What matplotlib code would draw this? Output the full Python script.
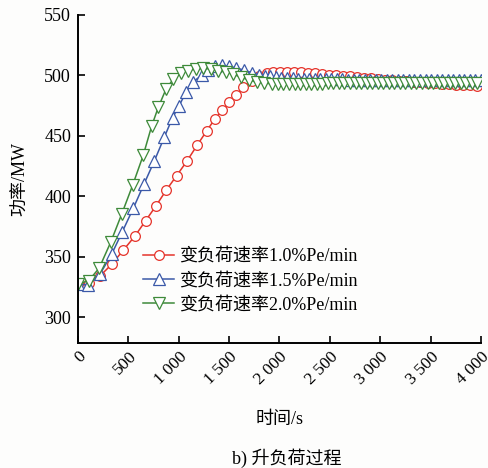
import matplotlib
matplotlib.use("Agg")
import matplotlib.pyplot as plt

plt.rcParams['font.family'] = ['Liberation Serif', 'Noto Sans CJK SC']

# time (s) and power (MW) at each marker
t_red = [0, 110, 218, 334, 450, 565, 671, 774, 876, 979, 1081, 1181, 1277, 1359,
         1432, 1498, 1567, 1640, 1723, 1799, 1872, 1935, 2004, 2070, 2140, 2210,
         2280, 2350, 2420, 2490, 2560, 2630, 2700, 2770, 2840, 2910, 2980, 3050,
         3120, 3190, 3260, 3330, 3400, 3470, 3540, 3610, 3680, 3750, 3820, 3890,
         3960]
p_red = [327.5, 328.5, 334.0, 343.6, 355.4, 367.0, 379.7, 392.0, 405.0, 417.0,
         429.0, 442.0, 454.0, 464.0, 471.0, 477.7, 484.0, 490.0, 495.4, 499.5,
         501.7, 502.8, 503.2, 503.2, 503.0, 502.6, 502.1, 501.6, 501.0, 500.5,
         500.1, 499.7, 499.2, 498.7, 498.2, 497.7, 497.1, 496.6, 496.1, 495.6,
         495.2, 494.8, 494.4, 494.0, 493.6, 493.2, 492.8, 492.4, 492.1, 491.8,
         491.5]

t_blue = [0, 100, 218, 334, 440, 549, 655, 757, 856, 939, 1005, 1071, 1144, 1227,
          1293, 1359, 1432, 1501, 1567, 1644, 1723, 1799, 1855, 1910, 1965, 2020,
          2075, 2130, 2185, 2240, 2295, 2350, 2405, 2460, 2515, 2570, 2625, 2680,
          2735, 2790, 2845, 2900, 2955, 3010, 3065, 3120, 3175, 3230, 3285, 3340,
          3395, 3450, 3505, 3560, 3615, 3670, 3725, 3780, 3835, 3890, 3945, 4000]
p_blue = [327.5, 326.5, 335.5, 352.0, 370.6, 390.0, 410.0, 429.0, 448.7, 465.0,
          475.0, 486.0, 494.8, 500.0, 504.5, 507.5, 508.3, 507.5, 506.2, 504.5,
          502.3, 500.5, 499.7, 499.1, 498.6, 498.2, 497.9, 497.6, 497.4, 497.2,
          497.1, 497.0, 496.9, 496.8, 496.8, 496.7, 496.7, 496.6, 496.6, 496.6,
          496.5, 496.5, 496.5, 496.5, 496.5, 496.5, 496.5, 496.5, 496.5, 496.5,
          496.5, 496.5, 496.5, 496.5, 496.5, 496.5, 496.5, 496.5, 496.5, 496.5,
          496.5, 496.5]

t_green = [0, 105, 210, 324, 433, 542, 648, 731, 797, 873, 946, 1019, 1094, 1171,
           1243, 1319, 1392, 1466, 1543, 1617, 1697, 1773, 1849, 1928, 1985, 2040,
           2095, 2150, 2205, 2260, 2315, 2370, 2425, 2480, 2535, 2590, 2645, 2700,
           2755, 2810, 2865, 2920, 2975, 3030, 3085, 3140, 3195, 3250, 3305, 3360,
           3415, 3470, 3525, 3580, 3635, 3690, 3745, 3800, 3855, 3910, 3965]
p_green = [327.5, 330.0, 340.5, 361.8, 385.0, 409.0, 434.0, 458.0, 473.6, 488.5,
           497.0, 501.7, 504.0, 505.3, 505.8, 505.3, 504.0, 502.8, 501.0, 498.4,
           496.2, 494.5, 493.7, 493.0, 492.8, 492.7, 492.7, 492.8, 492.9, 493.0,
           493.1, 493.2, 493.2, 493.3, 493.3, 493.4, 493.4, 493.4, 493.4, 493.4,
           493.4, 493.4, 493.4, 493.4, 493.4, 493.4, 493.4, 493.4, 493.4, 493.4,
           493.4, 493.4, 493.4, 493.4, 493.4, 493.4, 493.4, 493.4, 493.4, 493.4,
           493.4]

labels = ['变负荷速率1.0%Pe/min', '变负荷速率1.5%Pe/min', '变负荷速率2.0%Pe/min']
xticks = [0, 500, 1000, 1500, 2000, 2500, 3000, 3500, 4000]
xticklabels = ['0', '500', '1 000', '1 500', '2 000', '2 500', '3 000', '3 500', '4 000']
yticks = [300, 350, 400, 450, 500, 550]

fig = plt.figure(figsize=(4.89, 4.68), dpi=100)
fig.patch.set_facecolor('#fdfdfc')
ax = fig.add_axes([0.1595, 0.267, 0.824, 0.701])
ax.set_facecolor('#fdfdfc')

ax.plot(t_red, p_red, color='#e5332a', lw=1.1, marker='o', ms=7,
        mfc='white', mec='#e5332a', mew=0.9, label=labels[0])
ax.plot(t_blue, p_blue, color='#3b59a8', lw=1.1, marker='^', ms=8,
        mfc='white', mec='#3b59a8', mew=0.9, label=labels[1])
ax.plot(t_green, p_green, color='#3e8a3a', lw=1.1, marker='v', ms=8,
        mfc='white', mec='#3e8a3a', mew=0.9, label=labels[2])

ax.set_xlim(0, 4000)
ax.set_ylim(278.5, 550)
ax.set_xticks(xticks)
ax.set_xticklabels(xticklabels, rotation=45, ha='right', va='top',
                   rotation_mode='anchor')
ax.set_yticks(yticks)

ax.spines['top'].set_visible(False)
ax.spines['right'].set_visible(False)
ax.spines['left'].set_linewidth(1.4)
ax.spines['bottom'].set_linewidth(1.4)
ax.tick_params(direction='in', length=5, width=1.2, labelsize=13)
ax.tick_params(axis='y', pad=5)
ax.tick_params(axis='x', pad=4, labelsize=12.5)

ax.set_ylabel('功率/MW', fontsize=13, labelpad=11)
ax.set_xlabel('时间/s', fontsize=13, labelpad=17)

ax.legend(loc='center left', bbox_to_anchor=(0.162, 0.19), frameon=False,
          fontsize=13, handlelength=1.7, handletextpad=0.3, labelspacing=0.4,
          borderaxespad=0, borderpad=0)

fig.text(0.587, 0.021, 'b) 升负荷过程', fontsize=13, ha='center', va='center')

fig.savefig('out.png', dpi=100, facecolor=fig.get_facecolor())
